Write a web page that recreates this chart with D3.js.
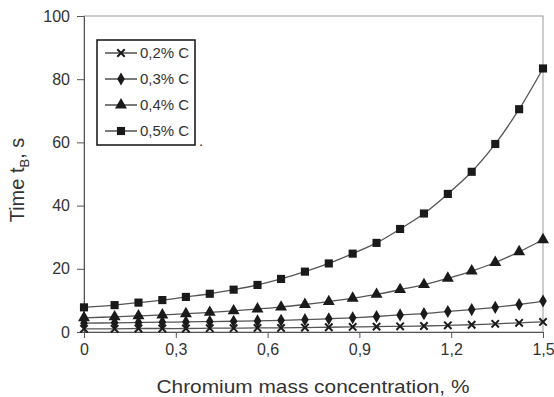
<!DOCTYPE html>
<html>
<head>
<meta charset="utf-8">
<script src="https://cdn.jsdelivr.net/npm/d3@7"></script>
<style>
  body { margin: 0; background: #fff; }
  svg text { font-family: "Liberation Sans", Arial, sans-serif; fill: #333; }
</style>
</head>
<body>
<div id="chart"></div>
<script>
// chromium content, % (x positions of the computed points)
var chromium = [0, 0.1, 0.178, 0.256, 0.333, 0.411, 0.489, 0.567, 0.644, 0.722,
                0.8, 0.878, 0.956, 1.033, 1.111, 1.189, 1.267, 1.344, 1.422, 1.5];

// time tB, s for each carbon content
var c02 = [1.0, 1.0, 1.1, 1.1, 1.1, 1.2, 1.2, 1.3, 1.3, 1.4,
           1.5, 1.6, 1.7, 1.8, 1.9, 2.1, 2.3, 2.6, 2.9, 3.2];
var c03 = [2.8, 2.9, 3.0, 3.1, 3.2, 3.3, 3.4, 3.5, 3.7, 3.9,
           4.2, 4.5, 4.9, 5.4, 5.8, 6.5, 7.1, 7.8, 8.7, 9.8];
var c04 = [4.5, 4.8, 5.1, 5.4, 5.8, 6.2, 6.7, 7.3, 7.9, 8.7,
           9.6, 10.7, 11.9, 13.4, 15.0, 17.0, 19.3, 22.0, 25.4, 29.2];
var c05 = [7.8, 8.5, 9.3, 10.1, 11.1, 12.1, 13.4, 14.9, 16.8, 19.1,
           21.7, 24.8, 28.2, 32.6, 37.5, 43.7, 50.7, 59.5, 70.5, 83.4];

var seriesNames = ["0,2% C", "0,3% C", "0,4% C", "0,5% C"];
var seriesMarks = ["x", "diamond", "triangle", "square"];
var xTicks = [0, 0.3, 0.6, 0.9, 1.2, 1.5];
var yTicks = [0, 20, 40, 60, 80, 100];

var width = 554, height = 397;
var margin = {top: 16, right: 11, bottom: 65, left: 84};

var svg = d3.select("#chart").append("svg")
    .attr("width", width).attr("height", height);

var x = d3.scaleLinear().domain([0, 1.5]).range([margin.left, width - margin.right]);
var y = d3.scaleLinear().domain([0, 100]).range([height - margin.bottom, margin.top]);

// plot frame
svg.append("rect")
    .attr("x", x(0)).attr("y", y(100))
    .attr("width", x(1.5) - x(0)).attr("height", y(0) - y(100))
    .attr("fill", "none").attr("stroke", "#999").attr("stroke-width", 1);

// axes
var xAxis = d3.axisBottom(x).tickValues(xTicks).tickSize(6).tickPadding(6)
    .tickFormat(function(d){ return d3.format(".1f")(d).replace(".", ",").replace(/^0,0$/, "0"); });
var gx = svg.append("g").attr("transform", "translate(0," + y(0) + ")").call(xAxis);
gx.selectAll("text").style("font-size", "16px").attr("fill", "#333");

var yAxis = d3.axisLeft(y).tickValues(yTicks).tickSize(7).tickPadding(7);
var gy = svg.append("g").attr("transform", "translate(" + x(0) + ",0)").call(yAxis);
gy.selectAll("text").style("font-size", "16px").attr("fill", "#333");

[gx, gy].forEach(function(g){
    g.select(".domain").attr("stroke", "#555");
    g.selectAll(".tick line").attr("stroke", "#555");
});

// series
var allSeries = [c02, c03, c04, c05];
var line = d3.line()
    .x(function(d, i){ return x(chromium[i]); })
    .y(function(d){ return y(d); })
    .curve(d3.curveCatmullRom.alpha(0.5));

function drawMark(g, kind, cx, cy) {
    if (kind === "x") {
        g.append("path")
            .attr("d", "M-3.7,-3.7L3.7,3.7M-3.7,3.7L3.7,-3.7")
            .attr("transform", "translate(" + cx + "," + cy + ")")
            .attr("stroke", "#1a1a1a").attr("stroke-width", 2).attr("fill", "none");
    } else {
        var type = kind === "square" ? d3.symbolSquare :
                   kind === "triangle" ? d3.symbolTriangle : d3.symbolDiamond;
        var size = kind === "square" ? 66 : kind === "triangle" ? 62 : 50;
        g.append("path")
            .attr("d", d3.symbol().type(type).size(size)())
            .attr("transform", "translate(" + cx + "," + cy + ")")
            .attr("fill", "#1a1a1a");
    }
}

allSeries.forEach(function(vals, k){
    svg.append("path")
        .attr("d", line(vals))
        .attr("fill", "none").attr("stroke", "#555").attr("stroke-width", 1.3);
    var gm = svg.append("g");
    vals.forEach(function(v, i){ drawMark(gm, seriesMarks[k], x(chromium[i]), y(v)); });
});

// legend
var lg = svg.append("g");
lg.append("rect").attr("x", 97).attr("y", 40).attr("width", 98).attr("height", 105)
    .attr("fill", "#fff").attr("stroke", "#111").attr("stroke-width", 1.5);
seriesNames.forEach(function(name, k){
    var ly = 53 + k * 26;
    lg.append("line").attr("x1", 105).attr("x2", 137).attr("y1", ly).attr("y2", ly)
        .attr("stroke", "#333").attr("stroke-width", 1.3);
    drawMark(lg, seriesMarks[k], 121, ly);
    lg.append("text").attr("x", 140).attr("y", ly + 5).style("font-size", "15px").text(name);
});
lg.append("text").attr("x", 199).attr("y", 146).style("font-size", "15px").text(".");

// axis titles
svg.append("text")
    .attr("x", 313).attr("y", 393)
    .attr("text-anchor", "middle")
    .attr("textLength", 313).attr("lengthAdjust", "spacingAndGlyphs")
    .style("font-size", "19px")
    .text("Chromium mass concentration, %");

var yt = svg.append("text")
    .attr("transform", "translate(24,180) rotate(-90)")
    .attr("text-anchor", "middle")
    .style("font-size", "20px");
yt.append("tspan").text("Time t");
yt.append("tspan").attr("dy", 5).style("font-size", "13px").text("B");
yt.append("tspan").attr("dy", -5).text(", s");
</script>
</body>
</html>
